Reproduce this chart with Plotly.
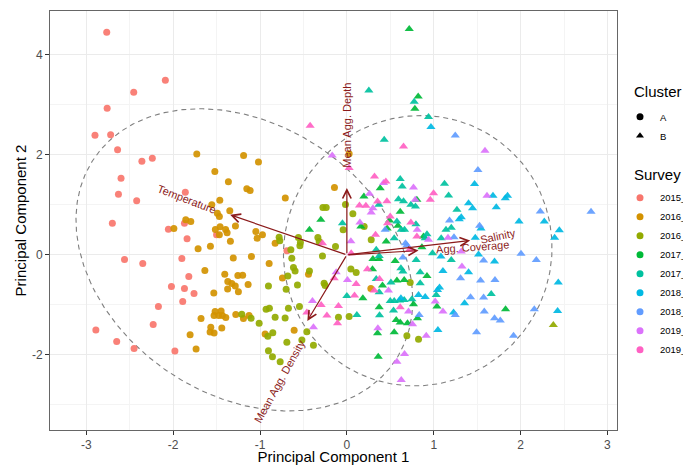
import numpy as np
import plotly.graph_objects as go

# ---------------- data ----------------
survey_labels = ["2015_Summer", "2016_Spring", "2016_Summer", "2017_Spring", "2017_Summer",
                 "2018_Spring", "2018_Summer", "2019_Spring", "2019_Summer"]
survey_colors = ["#F8766D", "#D39200", "#93AA00", "#00BA38", "#00C19F",
                 "#00B9E3", "#619CFF", "#DB72FB", "#FF61C3"]
cluster_labels = ["A", "B"]

x_ticks = [-3, -2, -1, 0, 1, 2, 3]
x_ticklabels = ["-3", "-2", "-1", "0", "1", "2", "3"]
y_ticks = [-2, 0, 2, 4]
y_ticklabels = ["-2", "0", "2", "4"]

# (PC1, PC2) scores per survey, cluster A (circles)
s2015_A = [(-2.765, 4.45), (-2.09, 3.49), (-2.454, 3.25), (-2.76, 2.93), (-2.90, 2.39), (-2.72, 2.40),
           (-2.64, 2.10), (-2.24, 1.93), (-2.36, 1.87), (-2.60, 1.53), (-2.63, 1.21), (-2.42, 1.08),
           (-1.86, 1.25), (-2.70, 0.63), (-2.055, 0.51), (-1.87, 0.63), (-1.84, 0.32), (-1.50, 0.40),
           (-2.56, -0.09), (-2.35, -0.17), (-1.90, -0.07), (-1.82, -0.43), (-2.02, -0.63), (-1.87, -0.67),
           (-1.76, -0.77), (-1.89, -0.93), (-2.17, -1.03), (-2.23, -1.39), (-2.89, -1.50), (-2.65, -1.73),
           (-2.45, -1.87), (-1.98, -1.92), (-0.69, 0.08)]
s2016a_A = [(-1.728, 2.014), (-1.189, 1.984), (-1.018, 1.854), (-1.520, 1.666), (-1.364, 1.46),
            (-1.152, 1.32), (-1.114, 1.286), (-0.709, 1.136), (-1.463, 1.094), (-1.555, 1.0),
            (-1.491, 0.834), (-1.468, 0.766), (-1.348, 0.88), (-1.855, 0.70), (-1.797, 0.666),
            (-1.992, 0.526), (-1.514, 0.506), (-1.460, 0.564), (-1.396, 0.506), (-1.379, 0.44),
            (-1.468, 0.40), (-1.283, 0.576), (-1.341, 0.27), (-1.048, 0.466), (-1.033, 0.334),
            (-0.972, 0.40), (-0.826, 0.234), (-1.713, 0.12), (-1.571, 0.174), (-1.308, -0.064),
            (-1.099, -0.034), (-0.895, -0.17), (-1.635, -0.314), (-1.406, -0.386), (-1.255, -0.41),
            (-1.200, -0.406), (-1.371, -0.53), (-1.325, -0.574), (-1.285, -0.62), (-1.137, -0.59),
            (-1.373, -0.684), (-1.249, -0.736), (-1.532, -0.76), (-0.742, -0.46), (-1.517, -1.134),
            (-1.448, -1.12), (-1.529, -1.214), (-1.475, -1.214), (-1.433, -1.214), (-1.394, -1.254),
            (-1.279, -1.194), (-1.191, -1.274), (-1.126, -1.214), (-1.679, -1.274), (-1.567, -1.446),
            (-1.575, -1.54), (-1.529, -1.56), (-1.440, -1.46), (-1.805, -1.594), (-1.736, -1.88),
            (-0.941, -1.58), (-0.607, -1.506), (-0.442, -0.386), (0.276, -0.674), (-0.143, 1.346),
            (0.026, 2.02)]
s2016b_A = [(-0.276, 0.946), (-0.238, 0.946), (-0.016, 1.006), (0.069, 0.82), (0.199, 0.566),
            (-0.043, 0.50), (0.280, 0.30), (-0.780, 0.354), (-0.772, 0.28), (-0.558, 0.346),
            (-0.535, 0.246), (-0.541, 0.18), (-0.334, 0.346), (-0.319, 0.266), (-0.131, 0.166),
            (-0.645, 0.10), (-0.634, -0.066), (-0.281, -0.02), (-0.615, -0.254), (-0.596, -0.32),
            (-0.431, -0.32), (-0.903, -0.62), (-0.680, -0.42), (-0.699, -0.686), (-0.569, -0.60),
            (-0.262, -0.566), (-0.250, -0.61), (0.046, -0.28), (0.107, -0.354), (-0.930, -1.086),
            (-0.892, -1.066), (-0.673, -1.066), (-0.546, -1.034), (-0.826, -1.246), (-0.711, -1.26),
            (-1.103, -1.266), (-1.010, -1.366), (-0.853, -1.554), (-0.910, -1.626), (-0.691, -1.746),
            (-0.518, -1.70), (-0.461, -1.534), (-0.385, -1.806), (-0.903, -1.914), (-0.857, -2.034),
            (-0.768, -2.134), (-0.097, -1.246), (0.026, -1.234), (0.729, -0.554), (0.691, -1.614),
            (0.825, -1.686), (-1.210, -1.186)]
# cluster B (triangles)
s2016b_B = [(2.377, -1.40)]
s2017a_B = [(0.718, 4.514), (0.821, 3.166), (0.783, 2.92), (0.384, 1.334), (0.196, 1.166), (0.614, 0.86),
            (-0.300, 0.70), (0.491, 0.686), (0.161, 0.566), (0.464, 0.526), (0.588, 0.58), (-0.431, 0.50),
            (0.453, 0.266), (0.806, 1.10), (0.882, 0.366), (0.864, 0.154), (0.300, -0.08), (0.369, -0.08),
            (0.295, -0.286), (0.410, -0.614), (0.184, -0.866), (0.556, -0.12), (0.576, -0.514),
            (0.372, -1.046), (0.568, -1.30), (0.353, -1.566), (0.545, -1.546), (0.361, -2.034),
            (0.922, -0.42), (0.660, -0.50), (0.767, -0.986), (1.037, -1.034), (1.827, -1.086),
            (0.813, -1.266), (0.614, -1.354), (0.698, -1.366)]
s2017b_B = [(0.253, 3.286), (0.775, 3.06), (0.940, 2.754), (0.430, 2.30), (0.614, 1.514), (0.637, 1.366),
            (0.594, 1.114), (0.652, 1.07), (0.369, 1.0), (-0.051, 0.634), (0.576, 0.666), (0.626, 0.50),
            (0.664, 0.50), (0.545, 0.334), (0.338, 0.10), (0.372, -0.02), (1.124, 1.42), (1.171, 1.186),
            (0.737, 1.0), (0.790, 0.966), (1.267, 0.90), (1.202, 0.54), (1.141, 0.50), (0.795, 0.614),
            (0.922, 0.414), (0.902, 0.334), (1.086, 0.334), (0.986, 0.034), (0.338, -0.48), (0.372, -0.746),
            (0.0, -0.82), (0.499, -0.92), (0.545, -0.92), (0.606, -0.914), (0.507, -0.554), (0.115, -1.20),
            (0.376, -1.206), (0.537, -1.114), (0.798, -0.10), (1.202, -0.10), (0.622, -0.266),
            (0.645, -0.334), (0.844, -0.346), (0.844, -0.566), (1.029, -0.80), (0.660, -0.90),
            (0.749, -0.886), (1.662, -0.78)]
s2018a_B = [(0.968, 2.554), (1.470, 1.414), (1.682, 1.18), (1.824, 1.134), (1.850, 1.18), (1.401, 1.034),
            (1.447, 0.934), (1.720, 0.954), (1.317, 0.754), (1.294, 0.714), (1.982, 0.666), (2.273, 0.666),
            (1.544, 0.526), (2.446, 0.494), (2.392, 0.34), (1.478, 0.34), (1.516, 0.006), (1.083, -0.034),
            (1.700, -0.134), (1.106, -0.32), (1.401, -0.346), (2.434, -0.554), (1.067, -0.654),
            (1.044, -0.70), (0.825, -0.80), (0.902, -0.84), (0.622, -0.866), (1.355, -0.966),
            (2.426, -1.12), (1.228, -1.154), (1.048, -1.50)]
s2018b_B = [(1.248, 2.386), (1.509, 1.694), (2.227, 0.866), (2.811, 0.86), (1.182, 0.686), (1.528, 0.58),
            (1.233, 0.354), (0.441, 0.50), (0.675, 0.234), (0.691, 0.194), (2.005, 0.02), (0.645, -0.054),
            (1.574, -0.114), (2.181, -0.10), (1.309, -0.466), (1.539, -0.514), (1.705, -0.50),
            (1.424, -0.846), (1.574, -0.854), (2.158, -1.086), (1.248, -1.20), (1.582, -1.134),
            (1.700, -1.266), (1.766, -1.314), (0.833, -1.20), (1.493, -1.546), (1.919, -1.614)]
s2019a_B = [(-0.169, 1.986), (1.590, 2.08), (0.422, 1.434), (0.260, 1.22), (0.300, 0.934), (0.280, 0.846),
            (0.150, 0.646), (0.046, 0.274), (0.767, 1.346), (1.613, 1.18), (0.787, 1.10), (0.810, 0.50),
            (0.940, 0.30), (1.164, 0.34), (1.317, 0.066), (-0.123, -0.346), (0.007, -0.50), (0.479, -0.714),
            (-0.396, -0.92), (-0.385, -1.446), (0.357, -1.466), (0.576, -2.134), (1.325, -0.234),
            (1.017, -0.934), (1.106, -1.134), (0.710, -1.134), (0.756, -1.386), (0.914, -1.614),
            (0.664, -1.98), (0.626, -2.50)]
s2019b_B = [(-0.423, 2.58), (0.652, 2.166), (0.026, 1.734), (0.318, 1.566), (0.449, 1.466), (0.353, 1.066),
            (0.461, 1.07), (0.145, 0.986), (0.219, 0.98), (0.499, 0.766), (0.468, 0.634), (0.330, 0.40),
            (-0.281, 0.234), (0.721, 0.10), (0.050, 0.034), (0.998, 1.234), (0.960, 1.10), (0.737, 0.646),
            (0.806, 0.366), (-0.146, -0.466), (0.107, -0.58), (0.237, -0.286), (0.376, -0.48),
            (0.315, -0.714), (0.088, -0.814), (-0.296, -1.0), (-0.097, -1.02), (-0.230, -1.214),
            (-0.108, -1.366), (-0.461, -1.154), (0.614, -1.046)]

scores_A = [s2015_A, s2016a_A, s2016b_A, [], [], [], [], [], []]
scores_B = [[], [], s2016b_B, s2017a_B, s2017b_B, s2018a_B, s2018b_B, s2019a_B, s2019b_B]

# variable loadings (arrows)
loading_names = ["Temperature", "Mean Agg. Depth", "Mean Agg. Density", "Salinity", "Agg. Coverage"]
loading_pc1 = [-1.344, 0.0, -0.455, 1.42, 0.825]
loading_pc2 = [0.80, 1.335, -1.32, 0.286, 0.086]
label_pc1 = [-1.846, 0.0, -0.774, 1.743, 1.449]
label_pc2 = [1.12, 2.60, -2.52, 0.37, 0.15]
label_angle = [21, -90, -61, -12, -4]

# cluster confidence ellipses (center, covariance shape)
ellipse_center = [(-1.18, -0.10), (0.816, 0.083)]
ellipse_shape = [[[3.76, -1.55], [-1.55, 9.12]], [[2.39, 0.10], [0.10, 7.30]]]

# ---------------- figure ----------------
fig = go.Figure()
font_family = "Liberation Sans, Arial, sans-serif"
arrow_col = "#8B1A1A"

# ellipses
t = np.linspace(0, 2 * np.pi, 361)
for c, S in zip(ellipse_center, ellipse_shape):
    vals, vecs = np.linalg.eigh(np.array(S))
    circ = np.vstack([np.cos(t), np.sin(t)])
    pts = vecs @ np.diag(np.sqrt(vals)) @ circ
    fig.add_trace(go.Scatter(x=c[0] + pts[0], y=c[1] + pts[1], mode="lines",
                             line=dict(color="#7F7F7F", width=1.1, dash="5px,4px"),
                             hoverinfo="skip", showlegend=False))

# points
for lab, col, ptsA, ptsB in zip(survey_labels, survey_colors, scores_A, scores_B):
    for pts, sym, sz in ((ptsA, "circle", 7), (ptsB, "triangle-up", 8)):
        if not pts:
            continue
        xs, ys = zip(*pts)
        fig.add_trace(go.Scatter(x=xs, y=ys, mode="markers", name=lab, showlegend=False,
                                 marker=dict(color=col, symbol=sym, size=sz, opacity=0.92,
                                             line=dict(width=0))))

# legend entries
for lab, sym in zip(cluster_labels, ["circle", "triangle-up"]):
    fig.add_trace(go.Scatter(x=[None], y=[None], mode="markers", name=lab, legend="legend",
                             marker=dict(color="black", symbol=sym, size=7)))
for lab, col in zip(survey_labels, survey_colors):
    fig.add_trace(go.Scatter(x=[None], y=[None], mode="markers", name=lab, legend="legend2",
                             marker=dict(color=col, symbol="circle", size=7)))

# arrows and labels
annotations = []
for name, x1, y1, lx, ly, ang in zip(loading_names, loading_pc1, loading_pc2,
                                     label_pc1, label_pc2, label_angle):
    annotations.append(dict(x=x1, y=y1, ax=0, ay=0, xref="x", yref="y", axref="x", ayref="y",
                            text="", showarrow=True, arrowhead=5, arrowsize=1.4, arrowwidth=1.2,
                            arrowcolor=arrow_col, standoff=0))
    annotations.append(dict(x=lx, y=ly, xref="x", yref="y", text=name, showarrow=False,
                            textangle=ang, font=dict(size=11, color=arrow_col, family=font_family)))

# legend titles
annotations.append(dict(x=1.027, y=0.807, xref="paper", yref="paper", text="Cluster",
                        showarrow=False, xanchor="left", yanchor="middle",
                        font=dict(size=15, color="black", family=font_family)))
annotations.append(dict(x=1.027, y=0.609, xref="paper", yref="paper", text="Survey",
                        showarrow=False, xanchor="left", yanchor="middle",
                        font=dict(size=15, color="black", family=font_family)))

axis_common = dict(showgrid=True, gridcolor="#EBEBEB", gridwidth=1.1, zeroline=False,
                   showline=True, linecolor="#666666", linewidth=1, mirror=True,
                   ticks="outside", ticklen=4, tickcolor="#333333", tickwidth=1,
                   tickfont=dict(size=12, color="#4D4D4D", family=font_family))

# page body has an 8px margin: figure is drawn 8px smaller and shifted accordingly
fig.update_layout(
    width=683, height=457,
    margin=dict(l=42, r=74, t=3, b=35, autoexpand=False),
    paper_bgcolor="white", plot_bgcolor="white",
    font=dict(family=font_family, color="black"),
    xaxis=dict(range=[-3.418, 3.11], tickmode="array", tickvals=x_ticks, ticktext=x_ticklabels,
               minor=dict(dtick=0.5, tick0=0, showgrid=True, gridcolor="#F4F4F4", gridwidth=0.6),
               title=dict(text="Principal Component 1", font=dict(size=15), standoff=3),
               **axis_common),
    yaxis=dict(range=[-3.5, 4.874], tickmode="array", tickvals=y_ticks, ticktext=y_ticklabels,
               minor=dict(dtick=1, tick0=0, showgrid=True, gridcolor="#F4F4F4", gridwidth=0.6),
               title=dict(text="Principal Component 2", font=dict(size=15), standoff=1),
               **axis_common),
    legend=dict(x=1.0053, y=0.782, xanchor="left", yanchor="top", font=dict(size=9.5),
                bgcolor="rgba(0,0,0,0)", tracegroupgap=0),
    legend2=dict(x=1.0053, y=0.589, xanchor="left", yanchor="top", font=dict(size=9.5),
                 bgcolor="rgba(0,0,0,0)", tracegroupgap=0),
    annotations=annotations,
)

fig.write_html("out.html")
